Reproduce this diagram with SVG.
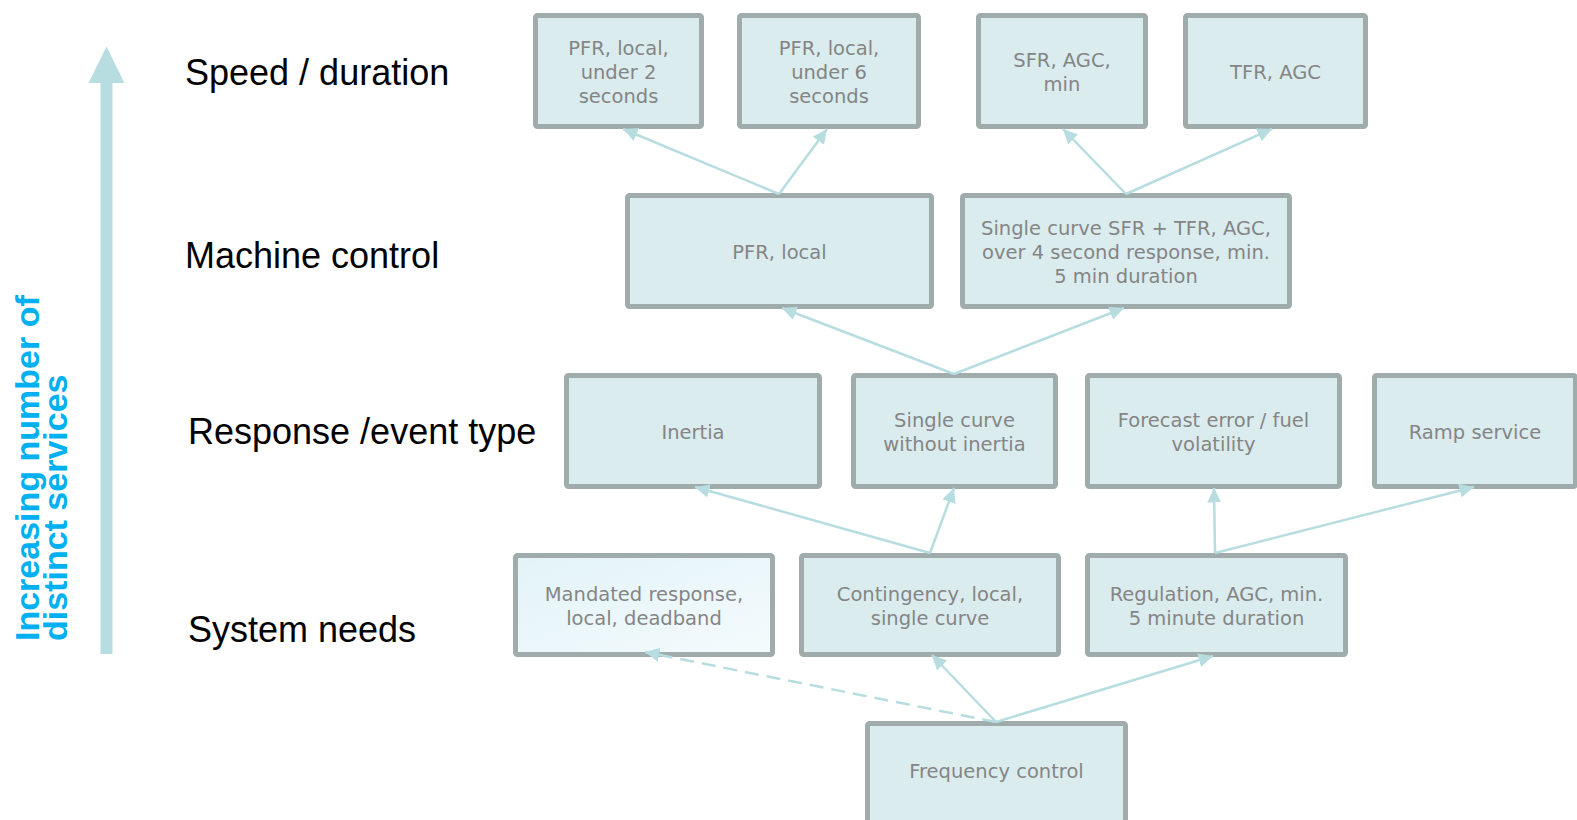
<svg xmlns="http://www.w3.org/2000/svg" width="1577" height="820" viewBox="0 0 1577 820">
<style>
.box{fill:#daecee;stroke:#a0acac;stroke-width:5}
.t{font-family:"DejaVu Sans",sans-serif;font-size:19.5px;fill:#858585;text-anchor:middle}
.lbl{font-family:"Liberation Sans",Arial,sans-serif;font-size:36px;fill:#000}
.c{stroke:#b7dde0;stroke-width:2.5;fill:none;marker-end:url(#ah)}
</style>
<defs>
<marker id="ah" markerUnits="userSpaceOnUse" markerWidth="15" markerHeight="14" refX="14.5" refY="7" orient="auto">
<path d="M0,0 L14.5,7 L0,14 z" fill="#b7dde0"/>
</marker>
<linearGradient id="mg" x1="0" y1="0" x2="1" y2="1">
<stop offset="0" stop-color="#e2f3f8"/>
<stop offset="1" stop-color="#f4fbfd"/>
</linearGradient>
</defs>
<rect width="1577" height="820" fill="#fff"/>
<g id="axis">
<rect x="100.5" y="82" width="12" height="572" fill="#b7dde0"/>
<path d="M88.5,83 L106.5,46.5 L124.5,83 z" fill="#b7dde0"/>
<text transform="translate(38.5,641) rotate(-90)" font-family="'Liberation Sans',Arial,sans-serif" font-weight="bold" font-size="34" fill="#00b0f0"><tspan x="0" y="0">Increasing number of</tspan><tspan x="0" y="28.5">distinct services</tspan></text>
</g>
<g id="labels">
<text class="lbl" x="185" y="85">Speed / duration</text>
<text class="lbl" x="185" y="268">Machine control</text>
<text class="lbl" x="188" y="444">Response /event type</text>
<text class="lbl" x="188" y="642">System needs</text>
</g>
<g id="nA"><rect class="box" x="535.5" y="15.5" width="166" height="111" rx="2"/><text class="t" x="618.5" y="55">PFR, local,</text><text class="t" x="618.5" y="79">under 2</text><text class="t" x="618.5" y="103">seconds</text></g>
<g id="nB"><rect class="box" x="739.5" y="15.5" width="179" height="111" rx="2"/><text class="t" x="829" y="55">PFR, local,</text><text class="t" x="829" y="79">under 6</text><text class="t" x="829" y="103">seconds</text></g>
<g id="nC"><rect class="box" x="978.5" y="15.5" width="167" height="111" rx="2"/><text class="t" x="1062" y="67">SFR, AGC,</text><text class="t" x="1062" y="91">min</text></g>
<g id="nD"><rect class="box" x="1185.5" y="15.5" width="180" height="111" rx="2"/><text class="t" x="1275.5" y="79">TFR, AGC</text></g>
<g id="nPFR"><rect class="box" x="627.5" y="195.5" width="304" height="111" rx="2"/><text class="t" x="779.5" y="258.5">PFR, local</text></g>
<g id="nSFR"><rect class="box" x="962.5" y="195.5" width="327" height="111" rx="2"/><text class="t" x="1126" y="234.5">Single curve SFR + TFR, AGC,</text><text class="t" x="1126" y="258.5">over 4 second response, min.</text><text class="t" x="1126" y="282.5">5 min duration</text></g>
<g id="nInertia"><rect class="box" x="566.5" y="375.5" width="253" height="111" rx="2"/><text class="t" x="693" y="439">Inertia</text></g>
<g id="nSCWI"><rect class="box" x="853.5" y="375.5" width="202" height="111" rx="2"/><text class="t" x="954.5" y="427">Single curve</text><text class="t" x="954.5" y="451">without inertia</text></g>
<g id="nForecast"><rect class="box" x="1087.5" y="375.5" width="252" height="111" rx="2"/><text class="t" x="1213.5" y="427">Forecast error / fuel</text><text class="t" x="1213.5" y="451">volatility</text></g>
<g id="nRamp"><rect class="box" x="1374.5" y="375.5" width="201" height="111" rx="2"/><text class="t" x="1475" y="439">Ramp service</text></g>
<g id="nMandated"><rect x="515.5" y="555.5" width="257" height="99" rx="2" fill="url(#mg)" stroke="#a0acac" stroke-width="5"/><text class="t" x="644" y="600.5">Mandated response,</text><text class="t" x="644" y="624.5">local, deadband</text></g>
<g id="nContingency"><rect class="box" x="801.5" y="555.5" width="257" height="99" rx="2"/><text class="t" x="930" y="600.5">Contingency, local,</text><text class="t" x="930" y="624.5">single curve</text></g>
<g id="nRegulation"><rect class="box" x="1087.5" y="555.5" width="258" height="99" rx="2"/><text class="t" x="1216.5" y="600.5">Regulation, AGC, min.</text><text class="t" x="1216.5" y="624.5">5 minute duration</text></g>
<g id="nFreq"><rect class="box" x="867.5" y="723.5" width="258" height="110" rx="2"/><text class="t" x="996.5" y="778">Frequency control</text></g>
<g id="connectors">
<line class="c" x1="779" y1="194" x2="623" y2="129"/>
<line class="c" x1="779" y1="194" x2="827" y2="129"/>
<line class="c" x1="1126" y1="194" x2="1063" y2="129"/>
<line class="c" x1="1126" y1="194" x2="1272" y2="129"/>
<line class="c" x1="954" y1="374" x2="782" y2="308"/>
<line class="c" x1="954" y1="374" x2="1124" y2="308"/>
<line class="c" x1="930" y1="553" x2="695" y2="487"/>
<line class="c" x1="930" y1="553" x2="954" y2="488"/>
<line class="c" x1="1215" y1="553" x2="1214" y2="488"/>
<line class="c" x1="1215" y1="553" x2="1474" y2="487"/>
<line class="c" x1="996" y1="722" x2="645" y2="652" stroke-dasharray="14 8"/>
<line class="c" x1="996" y1="722" x2="932" y2="655"/>
<line class="c" x1="996" y1="722" x2="1213" y2="656"/>
</g>
</svg>
